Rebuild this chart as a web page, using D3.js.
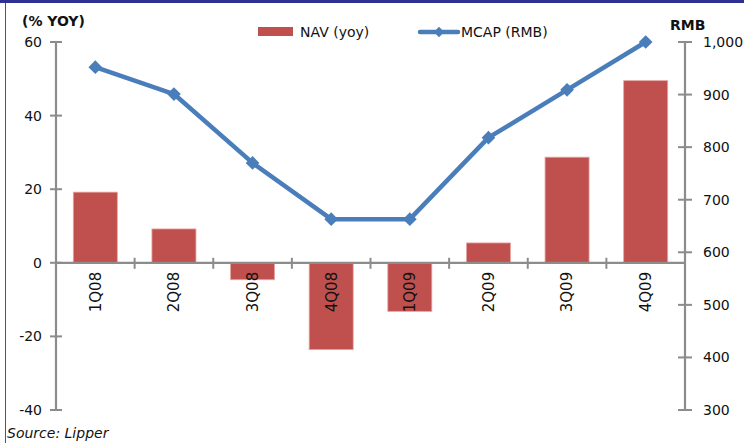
<!DOCTYPE html>
<html>
<head>
<meta charset="utf-8">
<script src="https://cdn.jsdelivr.net/npm/d3@7.9.0/dist/d3.min.js"></script>
<style>
  body { margin: 0; background: #fff; }
  svg { display: block; font-family: "DejaVu Sans", Verdana, sans-serif; }
</style>
</head>
<body>
<div id="chart"></div>
<script>
// Data
const quarters = ["1Q08", "2Q08", "3Q08", "4Q08", "1Q09", "2Q09", "3Q09", "4Q09"];
const navYoy = [19.2, 9.2, -4.6, -23.6, -13.2, 5.4, 28.7, 49.5];
const mcapRmb = [952, 901, 770, 663, 663, 818, 909, 1000];
const leftTicks = [-40, -20, 0, 20, 40, 60];
const rightTicks = [300, 400, 500, 600, 700, 800, 900, 1000];

const W = 744, H = 443;
const plot = { left: 56, right: 685, top: 42, bottom: 410 };
const axisColor = "#8c8c8c";

const svg = d3.select("#chart").append("svg")
    .attr("width", W)
    .attr("height", H);

// frame: navy top rule and thin left rule
svg.append("rect").attr("x", 0).attr("y", 0).attr("width", W).attr("height", 3).attr("fill", "#2e3192");
svg.append("line").attr("x1", 5.5).attr("x2", 5.5).attr("y1", 3).attr("y2", H).attr("stroke", "#555").attr("stroke-width", 1);

const x = d3.scaleBand().domain(quarters).range([plot.left, plot.right]).paddingInner(0.44).paddingOuter(0.22);
const xb = d3.scaleBand().domain(quarters).range([plot.left, plot.right]);
const yL = d3.scaleLinear().domain([-40, 60]).range([plot.bottom, plot.top]);
const yR = d3.scaleLinear().domain([300, 1000]).range([plot.bottom, plot.top]);

// bars
svg.append("g").selectAll("rect")
    .data(navYoy)
    .join("rect")
    .attr("x", (d, i) => x(quarters[i]))
    .attr("width", x.bandwidth())
    .attr("y", d => yL(Math.max(0, d)))
    .attr("height", d => Math.abs(yL(d) - yL(0)))
    .attr("fill", "#c0504d")
    .attr("stroke", "#e6a6a4")
    .attr("stroke-width", 0.8);

// left axis
const gL = svg.append("g").attr("transform", `translate(${plot.left},0)`);
gL.append("line").attr("y1", plot.top).attr("y2", plot.bottom).attr("stroke", axisColor).attr("stroke-width", 2.2);
gL.selectAll(".tk").data(leftTicks).join("line")
    .attr("x1", -6).attr("x2", 6)
    .attr("y1", d => yL(d)).attr("y2", d => yL(d))
    .attr("stroke", axisColor).attr("stroke-width", 2);
gL.selectAll("text").data(leftTicks).join("text")
    .attr("x", -14).attr("y", d => yL(d)).attr("dy", "0.36em")
    .attr("text-anchor", "end").attr("font-size", 14).attr("fill", "#111")
    .text(d => d);

// right axis
const gR = svg.append("g").attr("transform", `translate(${plot.right},0)`);
gR.append("line").attr("y1", plot.top).attr("y2", plot.bottom).attr("stroke", axisColor).attr("stroke-width", 2.2);
gR.selectAll(".tk").data(rightTicks).join("line")
    .attr("x1", -7).attr("x2", 7)
    .attr("y1", d => yR(d)).attr("y2", d => yR(d))
    .attr("stroke", axisColor).attr("stroke-width", 2);
gR.selectAll("text").data(rightTicks).join("text")
    .attr("x", 18).attr("y", d => yR(d)).attr("dy", "0.36em")
    .attr("text-anchor", "start").attr("font-size", 14).attr("fill", "#111")
    .text(d => d3.format(",")(d));

// category axis at zero
const gX = svg.append("g").attr("transform", `translate(0,${yL(0)})`);
gX.append("line").attr("x1", plot.left).attr("x2", plot.right).attr("stroke", axisColor).attr("stroke-width", 2.2);
gX.selectAll(".tk").data(quarters.slice(1)).join("line")
    .attr("x1", d => xb(d)).attr("x2", d => xb(d))
    .attr("y1", -5).attr("y2", 6)
    .attr("stroke", axisColor).attr("stroke-width", 2);
gX.selectAll("text").data(quarters).join("text")
    .attr("transform", d => `translate(${xb(d) + xb.bandwidth() / 2},9) rotate(-90)`)
    .attr("text-anchor", "end").attr("dy", "0.36em")
    .attr("font-size", 15).attr("fill", "#111")
    .text(d => d);

// MCAP line
const line = d3.line().x((d, i) => xb(quarters[i]) + xb.bandwidth() / 2).y(d => yR(d));
svg.append("path").datum(mcapRmb)
    .attr("d", line).attr("fill", "none")
    .attr("stroke", "#4a7ebb").attr("stroke-width", 4.5).attr("stroke-linejoin", "round");
svg.append("g").selectAll("path")
    .data(mcapRmb).join("path")
    .attr("d", d3.symbol(d3.symbolDiamond2, 120))
    .attr("transform", (d, i) => `translate(${xb(quarters[i]) + xb.bandwidth() / 2},${yR(d)})`)
    .attr("fill", "#4a7ebb");

// axis titles
svg.append("text").attr("x", 22).attr("y", 26).attr("font-size", 14).attr("font-weight", "bold").attr("fill", "#111").text("(% YOY)");
svg.append("text").attr("x", 670).attr("y", 30).attr("font-size", 14).attr("font-weight", "bold").attr("fill", "#111").text("RMB");

// legend
const leg = svg.append("g");
leg.append("rect").attr("x", 258).attr("y", 27).attr("width", 35).attr("height", 9).attr("fill", "#c0504d");
leg.append("text").attr("x", 300).attr("y", 32).attr("dy", "0.36em").attr("font-size", 14).attr("fill", "#111").text("NAV (yoy)");
leg.append("line").attr("x1", 420).attr("x2", 458).attr("y1", 32).attr("y2", 32).attr("stroke", "#4a7ebb").attr("stroke-width", 4.5).attr("stroke-linecap", "round");
leg.append("path").attr("d", d3.symbol(d3.symbolDiamond2, 70)).attr("transform", "translate(439,32)").attr("fill", "#4a7ebb");
leg.append("text").attr("x", 461).attr("y", 32).attr("dy", "0.36em").attr("font-size", 14).attr("fill", "#111").text("MCAP (RMB)");

// source
svg.append("text").attr("x", 7).attr("y", 438).attr("font-size", 14).attr("font-style", "italic").attr("fill", "#111").text("Source: Lipper");
</script>
</body>
</html>
